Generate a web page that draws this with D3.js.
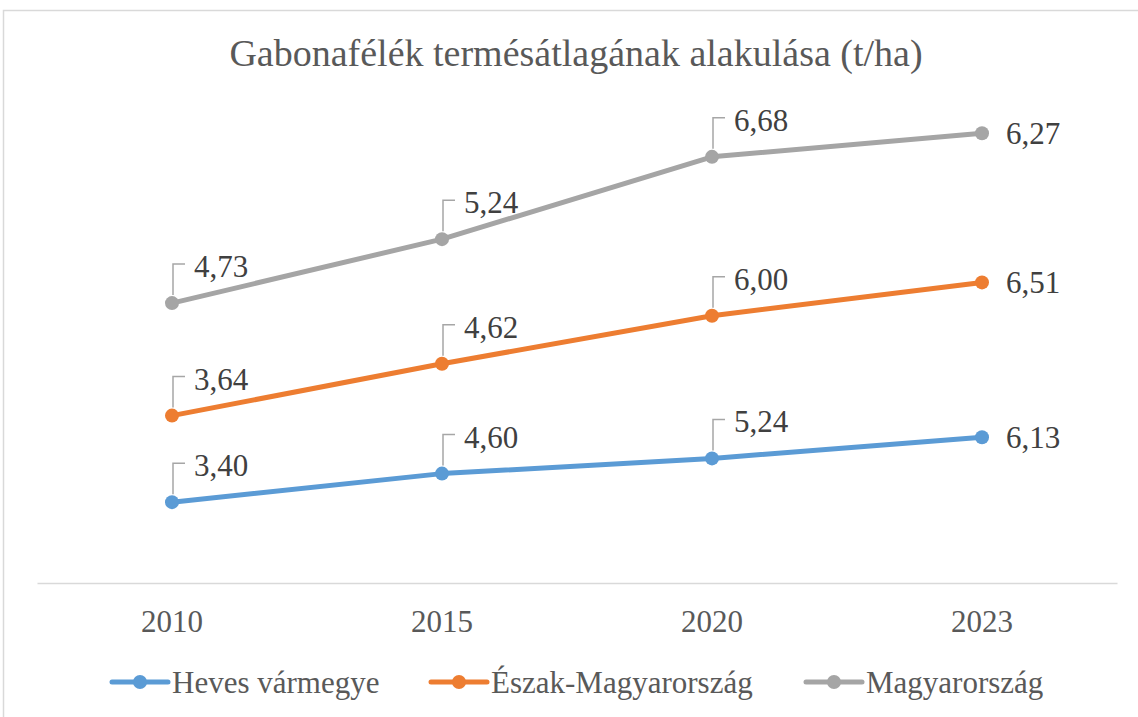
<!DOCTYPE html>
<html><head><meta charset="utf-8">
<script src="https://cdn.jsdelivr.net/npm/d3@7"></script>
<style>body{margin:0;background:#fff}svg{display:block}text{font-family:"Liberation Serif","Times New Roman",serif}</style>
</head><body>
<script>
const years = ["2010","2015","2020","2023"];
const seriesNames = ["Heves vármegye","Észak-Magyarország","Magyarország"];
const heves = [3.40, 4.60, 5.24, 6.13];
const eszak = [3.64, 4.62, 6.00, 6.51];
const magyar = [4.73, 5.24, 6.68, 6.27];
const colors = ["#5B9BD5","#ED7D31","#A5A5A5"];
const yTicks = [0, 20];
const title = "Gabonafélék termésátlagának alakulása (t/ha)";

const W = 1138, H = 717;
const font = "Liberation Serif";
const svg = d3.select("body").append("svg").attr("width", W).attr("height", H);
svg.append("rect").attr("x", 3.5).attr("y", 10.5).attr("width", W).attr("height", H)
  .attr("fill", "#fff").attr("stroke", "#D9D9D9").attr("stroke-width", 1.5);

svg.append("text").attr("x", 576).attr("y", 66).attr("text-anchor", "middle")
  .attr("font-family", font).attr("font-size", 38).attr("fill", "#595959").text(title);

const x = d3.scaleBand().domain(years).range([37, 1117]);
const y = d3.scaleLinear().domain([yTicks[0], yTicks[1]]).range([583, 107.4]);

const table = years.map((yr, i) => ({year: yr, [seriesNames[0]]: heves[i], [seriesNames[1]]: eszak[i], [seriesNames[2]]: magyar[i]}));
const stacked = d3.stack().keys(seriesNames)(table);

const xAxis = svg.append("g").attr("transform", "translate(0,583)")
  .call(d3.axisBottom(x).tickSize(0).tickPadding(27));
xAxis.attr("font-family", font);
xAxis.select(".domain").attr("stroke", "#D9D9D9").attr("stroke-width", 1.5);
xAxis.selectAll("text").attr("font-family", font).attr("font-size", 31).attr("fill", "#595959");

const cx = d => x(d.data.year) + x.bandwidth() / 2;
const line = d3.line().x(cx).y(d => y(d[1]));

stacked.forEach((s, si) => {
  const g = svg.append("g");
  g.append("path").datum(s).attr("d", line).attr("fill", "none")
    .attr("stroke", colors[si]).attr("stroke-width", 5).attr("stroke-linejoin", "round");
  g.selectAll("circle").data(s).join("circle")
    .attr("cx", cx).attr("cy", d => y(d[1])).attr("r", 7).attr("fill", colors[si]);
  s.forEach((d, i) => {
    const px = cx(d), py = y(d[1]);
    const val = d[1] - d[0];
    const txt = val.toFixed(2).replace(".", ",");
    if (i === s.length - 1) {
      g.append("text").attr("x", px + 24).attr("y", py + 11)
        .attr("font-family", font).attr("font-size", 31).attr("fill", "#404040").text(txt);
    } else {
      g.append("path").attr("d", `M${px + 1},${py - 8}V${py - 39}H${px + 13}`)
        .attr("fill", "none").attr("stroke", "#A6A6A6").attr("stroke-width", 1.5);
      g.append("text").attr("x", px + 22).attr("y", py - 26)
        .attr("font-family", font).attr("font-size", 31).attr("fill", "#404040").text(txt);
    }
  });
});

const legendX = [112, 431, 806];
seriesNames.forEach((n, i) => {
  const g = svg.append("g").attr("transform", `translate(${legendX[i]},682)`);
  g.append("line").attr("x1", 0).attr("x2", 56).attr("stroke", colors[i]).attr("stroke-width", 5).attr("stroke-linecap", "round");
  g.append("circle").attr("cx", 28).attr("r", 7).attr("fill", colors[i]);
  g.append("text").attr("x", 60).attr("y", 11).attr("font-family", font).attr("font-size", 31)
    .attr("fill", "#595959").text(n);
});
</script>
</body></html>
